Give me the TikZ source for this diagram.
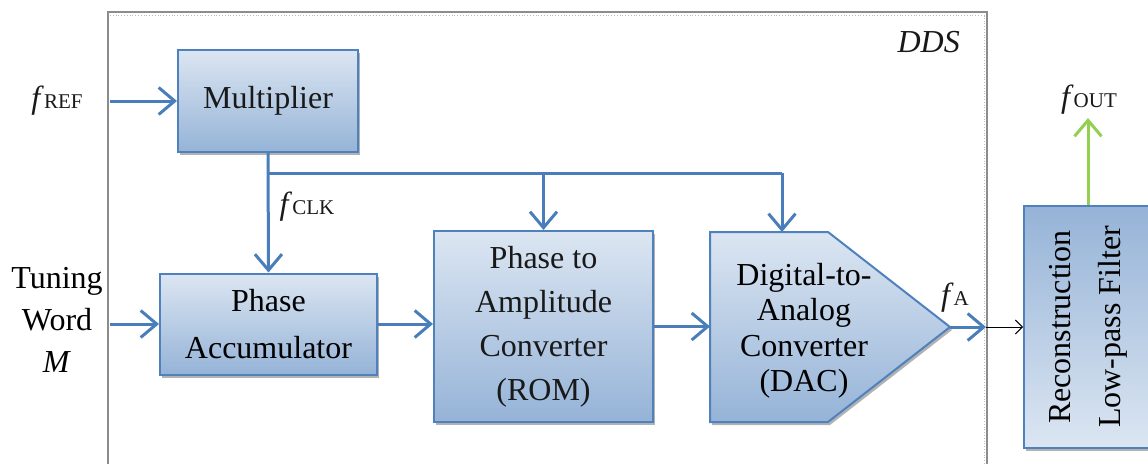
\documentclass[tikz,border=0pt]{standalone}
\usepackage{fontspec}
\setmainfont{Liberation Serif}
\usetikzlibrary{arrows.meta,shadows,calc}
\definecolor{bblue}{HTML}{4F81BD}
\definecolor{aline}{HTML}{4A7EBB}
\definecolor{ftop}{HTML}{DCE6F2}
\definecolor{fbot}{HTML}{95B3D7}
\definecolor{gline}{HTML}{92D050}
\definecolor{ddsgray}{HTML}{8C8C8C}
\begin{document}
\begin{tikzpicture}[x=1pt,y=-1pt,
  font=\fontsize{32}{44}\selectfont\color{black!90},
  box/.style={draw=bblue, line width=2pt, top color=ftop, bottom color=fbot,
    drop shadow={shadow xshift=2pt, shadow yshift=-3pt, opacity=0.3, fill=black},
    inner sep=0pt, align=center},
  tipb/.style={-{Straight Barb[length=16pt, width=27pt, line width=3pt]}},
  arr/.style={draw=aline, line width=3pt, tipb},
  busline/.style={draw=aline, line width=3pt},
  lbl/.style={inner sep=0pt, align=center}]
\useasboundingbox (0,0) rectangle (1148,463);
\fill[white] (0,0) rectangle (1148,463);
% DDS frame
\draw[ddsgray, line width=1.3pt] (108,470) -- (108,12) -- (987,12) -- (987,470);
\draw[ddsgray!60, dotted, line width=0.8pt] (110,15.5) -- (984,15.5) -- (984,470);
\node[lbl, anchor=east] (dds) at (960,42) {\textit{DDS}};

% blocks
\node[box, minimum width=180pt, minimum height=102pt] (mult) at (268,101) {Multiplier};
\node[box, minimum width=217pt, minimum height=101pt, font=\fontsize{32}{47}\selectfont] (pa) at (268.5,324) {Phase\\Accumulator};
\node[box, minimum width=219pt, minimum height=191pt] (rom) at (543.5,326.5) {Phase to\\Amplitude\\Converter\\(ROM)};
\path[box] (710,232) -- (828,232) -- (950,327) -- (828,422) -- (710,422) -- cycle;
\node[lbl, font=\fontsize{32}{35.5}\selectfont] (dac) at (804,331) {Digital-to-\\Analog\\Converter\\(DAC)};
\node[box, minimum width=128pt, minimum height=242pt, top color=fbot, bottom color=ftop] (filt) at (1088,327) {};
\node[lbl, rotate=90, font=\fontsize{32}{50}\selectfont] (filttxt) at (filt.center) {Reconstruction\\Low-pass Filter};

% labels
\node[lbl] (fref) at (57,101) {\textit{f}{\fontsize{21}{21}\selectfont REF}};
\node[lbl, font=\fontsize{32}{42}\selectfont] (tw) at (57,320) {Tuning\\Word\\\textit{M}};
\node[lbl] (fclk) at (307,207) {\textit{f}{\fontsize{21}{21}\selectfont CLK}};
\node[lbl] (fa) at (955,298) {\textit{f}{\fontsize{21}{21}\selectfont A}};
\node[lbl] (fout) at (1089,100) {\textit{f}{\fontsize{21}{21}\selectfont OUT}};

% coordinates
\coordinate (frefin) at (110,101);
\coordinate (twin) at (110,324);
\coordinate (j0) at (268,173);
\coordinate (j1) at (543.5,173);
\coordinate (j2) at (782,173);
\coordinate (dacn) at (782,232);
\coordinate (dacw) at (710,327);
\coordinate (dact) at (950,327);
\coordinate (ddsr) at (986,327);
\coordinate (fouta) at (1088,118);

% connectors
\draw[arr] (frefin) -- (mult.west);
\draw[arr] (twin) -- (pa.west);
\draw[arr] (mult.south) -- (pa.north);
\draw[busline] (j0) -- (j2);
\draw[arr] (j1) -- (rom.north);
\draw[arr] (j2) -- (dacn);
\draw[arr] (pa.east) -- (pa.east -| rom.west);
\draw[arr] (rom.east) -- (rom.east -| dacw);
\draw[arr] (dact) -- (ddsr);
\draw[black, line width=1pt, -{Straight Barb[length=7pt, width=14pt]}] (ddsr) -- (filt.west);
\draw[draw=gline, line width=3pt, tipb] (filt.north) -- (fouta);
\end{tikzpicture}
\end{document}
